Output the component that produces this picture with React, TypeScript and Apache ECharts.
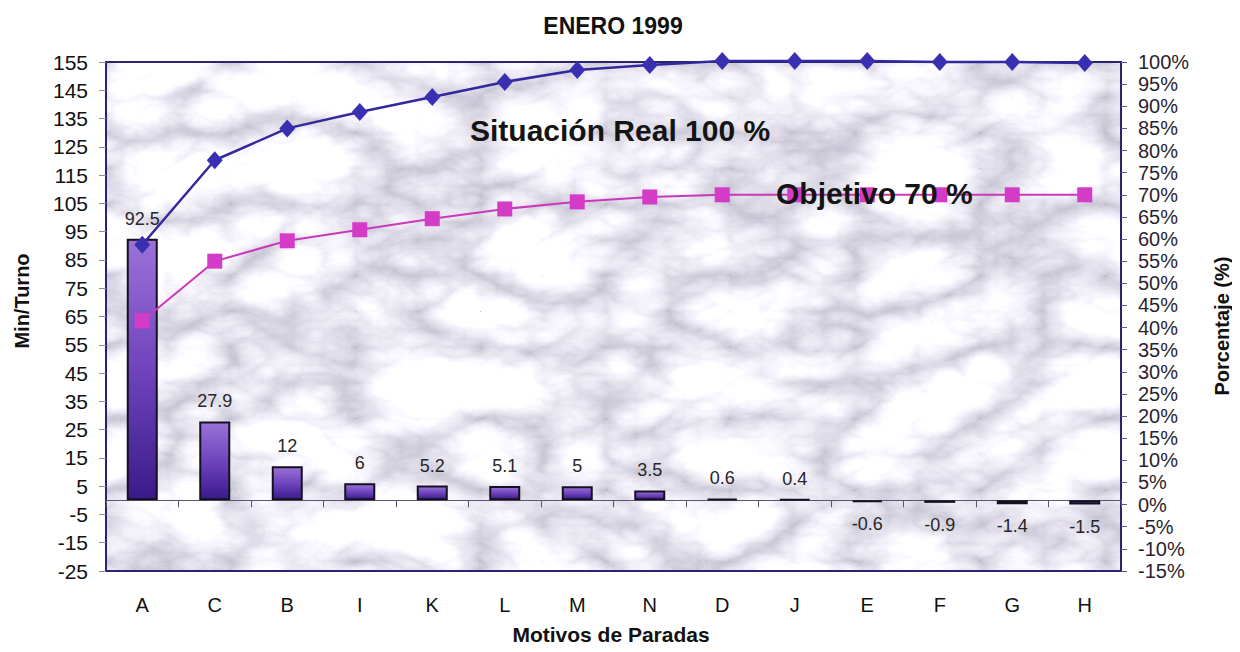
import React, { useEffect, useRef } from "react";
import * as echarts from "echarts";

// Stoppage reasons, ordered as in the Pareto analysis
const categories = ["A", "C", "B", "I", "K", "L", "M", "N", "D", "J", "E", "F", "G", "H"];
// Minutes lost per shift for each reason
const minutesPerShift = [92.5, 27.9, 12, 6, 5.2, 5.1, 5, 3.5, 0.6, 0.4, -0.6, -0.9, -1.4, -1.5];
// Cumulative share, real situation (100 %)
const actualPct = [58.7, 77.8, 85.0, 88.7, 92.1, 95.5, 98.2, 99.3, 100.2, 100.2, 100.2, 100, 100, 99.8];
// Cumulative share, objective (70 %)
const targetPct = [41.5, 55.0, 59.6, 62.1, 64.6, 66.8, 68.4, 69.5, 70.0, 70.0, 70.0, 70.0, 70.0, 70.0];
// Tick values of the minutes axis
const minuteTicks = [-25, -15, -5, 5, 15, 25, 35, 45, 55, 65, 75, 85, 95, 105, 115, 125, 135, 145, 155];

const FONT = "'Liberation Sans', Arial, Helvetica, sans-serif";

const GRID = { left: 106, right: 119, top: 62, bottom: 81 };
const W = 1240;
const H = 652;
const PLOT_W = W - GRID.left - GRID.right;
const PLOT_H = H - GRID.top - GRID.bottom;

// Marble-like texture for the plotting area
function marbleTexture(w: number, h: number): string {
  const svg =
    `<svg xmlns='http://www.w3.org/2000/svg' width='${w}' height='${h}'>` +
    `<filter id='m' x='0' y='0' width='100%' height='100%'>` +
    `<feTurbulence type='turbulence' baseFrequency='0.008 0.014' numOctaves='6' seed='11' result='t'/>` +
    `<feColorMatrix in='t' type='matrix' values='1.0 0 0 0 0.53  1.0 0 0 0 0.51  0.9 0 0 0 0.62  0 0 0 0 1'/>` +
    `</filter>` +
    `<rect width='100%' height='100%' filter='url(#m)'/>` +
    `</svg>`;
  return "data:image/svg+xml;charset=utf-8," + encodeURIComponent(svg);
}

export default function App() {
  const ref = useRef<HTMLDivElement>(null);

  useEffect(() => {
    if (!ref.current) return;
    const chart = echarts.init(ref.current, undefined, { renderer: "svg" });

    const barData = minutesPerShift.map((v) => ({
      value: v,
      label: v < 0 ? { position: "bottom" as const, distance: 13 } : undefined,
    }));

    chart.setOption({
      animation: false,
      backgroundColor: "#ffffff",
      textStyle: { fontFamily: FONT },
      grid: {
        ...GRID,
        show: true,
        backgroundColor: "transparent",
        borderColor: "#2a2370",
        borderWidth: 2,
        containLabel: false,
      },
      graphic: [
        {
          type: "image",
          z: -1,
          silent: true,
          style: {
            image: marbleTexture(PLOT_W, PLOT_H),
            x: GRID.left,
            y: GRID.top,
            width: PLOT_W,
            height: PLOT_H,
          },
        },
        {
          type: "text",
          x: 613,
          y: 26,
          style: {
            text: "ENERO 1999",
            font: `bold 23px ${FONT}`,
            fill: "#111",
            align: "center",
            verticalAlign: "middle",
          },
        },
        {
          type: "text",
          x: 22,
          y: 301,
          rotation: Math.PI / 2,
          style: {
            text: "Min/Turno",
            font: `bold 20px ${FONT}`,
            fill: "#111",
            align: "center",
            verticalAlign: "middle",
          },
        },
        {
          type: "text",
          x: 1222,
          y: 326,
          rotation: Math.PI / 2,
          style: {
            text: "Porcentaje (%)",
            font: `bold 20px ${FONT}`,
            fill: "#111",
            align: "center",
            verticalAlign: "middle",
          },
        },
        {
          type: "text",
          x: 611,
          y: 634,
          style: {
            text: "Motivos de Paradas",
            font: `bold 21px ${FONT}`,
            fill: "#111",
            align: "center",
            verticalAlign: "middle",
          },
        },
        {
          type: "text",
          z: 20,
          x: 470,
          y: 130,
          style: {
            text: "Situación Real 100 %",
            font: `bold 30px ${FONT}`,
            fill: "#141414",
            align: "left",
            verticalAlign: "middle",
          },
        },
        {
          type: "text",
          z: 20,
          x: 776,
          y: 193,
          style: {
            text: "Objetivo 70 %",
            font: `bold 30px ${FONT}`,
            fill: "#141414",
            align: "left",
            verticalAlign: "middle",
          },
        },
      ],
      xAxis: [
        {
          type: "category",
          data: categories,
          position: "bottom",
          boundaryGap: true,
          axisLine: { onZero: false, show: true, lineStyle: { color: "#2a2370", width: 2 } },
          axisTick: { show: false },
          axisLabel: { margin: 24, fontSize: 20, color: "#111", fontFamily: FONT },
          splitLine: { show: false },
        },
        {
          type: "category",
          data: categories,
          position: "bottom",
          boundaryGap: true,
          axisLine: { onZero: true, onZeroAxisIndex: 0, show: true, lineStyle: { color: "#5a5670", width: 1 } },
          axisTick: { show: true, length: 7, lineStyle: { color: "#5a5670", width: 1 } },
          axisLabel: { show: false },
          splitLine: { show: false },
        },
      ],
      yAxis: [
        {
          type: "value",
          position: "left",
          min: -25,
          max: 155,
          interval: 10,
          axisLine: { show: true, lineStyle: { color: "#2a2370", width: 2 } },
          axisTick: {
            show: true,
            length: 7,
            customValues: minuteTicks,
            lineStyle: { color: "#8a8a9a", width: 1 },
          },
          axisLabel: {
            customValues: minuteTicks,
            margin: 18,
            fontSize: 21,
            color: "#111",
            fontFamily: FONT,
          },
          splitLine: { show: false },
        },
        {
          type: "value",
          position: "right",
          min: -15,
          max: 100,
          interval: 5,
          axisLine: { show: true, lineStyle: { color: "#2a2370", width: 2 } },
          axisTick: { show: true, length: 6, lineStyle: { color: "#5a58a0", width: 1 } },
          axisLabel: {
            formatter: "{value}%",
            margin: 17,
            fontSize: 20,
            lineHeight: 20,
            color: "#2a1f2f",
            fontFamily: FONT,
          },
          splitLine: { show: false },
        },
      ],
      series: [
        {
          name: "Min/Turno",
          type: "bar",
          xAxisIndex: 0,
          yAxisIndex: 0,
          data: barData,
          barWidth: 31,
          z: 3,
          itemStyle: {
            borderColor: "#151020",
            borderWidth: 2,
            color: new echarts.graphic.LinearGradient(0, 0, 0, 1, [
              { offset: 0, color: "#9a72d8" },
              { offset: 0.5, color: "#6f44bd" },
              { offset: 1, color: "#3a1a8a" },
            ]),
          },
          label: {
            show: true,
            position: "top",
            distance: 11,
            fontSize: 18,
            color: "#262626",
            fontFamily: FONT,
          },
        },
        {
          name: "Situación Real",
          type: "line",
          xAxisIndex: 0,
          yAxisIndex: 1,
          data: actualPct,
          clip: false,
          z: 5,
          symbol: "diamond",
          symbolSize: [16, 18],
          lineStyle: { color: "#33289e", width: 2.5 },
          itemStyle: { color: "#3a2fb0" },
        },
        {
          name: "Objetivo",
          type: "line",
          xAxisIndex: 0,
          yAxisIndex: 1,
          data: targetPct,
          clip: false,
          z: 5,
          symbol: "rect",
          symbolSize: 15,
          lineStyle: { color: "#c83ab8", width: 2 },
          itemStyle: { color: "#d43cc8" },
        },
      ],
    });

    return () => chart.dispose();
  }, []);

  return <div ref={ref} style={{ width: W, height: H, margin: -8 }} />;
}
